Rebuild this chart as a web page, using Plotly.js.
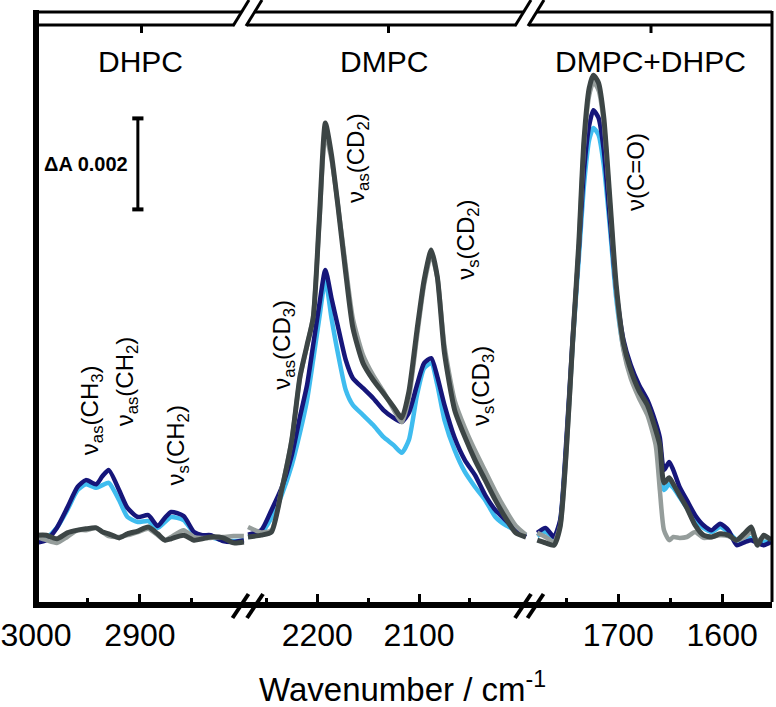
<!DOCTYPE html>
<html>
<head>
<meta charset="utf-8">
<script src="https://cdn.plot.ly/plotly-3.0.1.min.js"></script>
<style>
  html, body { margin: 0; padding: 0; background: #ffffff; }
  #chart { width: 776px; height: 707px; }
</style>
</head>
<body>
<div id="chart"></div>
<script>
// Difference spectra (ΔA in units of 10^-3) over three wavenumber windows.

// --- DHPC window: CH stretching region ---
const dhpcWn = [3000, 2990, 2980, 2970, 2960, 2952, 2942, 2936, 2930, 2920, 2912, 2902, 2892, 2883, 2876, 2870, 2858, 2848, 2840, 2832, 2820, 2810, 2800];
const dhpcBlue = [-0.11, -0.02, 0.20, 0.59, 1.03, 1.16, 1.08, 1.14, 1.19, 0.81, 0.44, 0.33, 0.35, 0.20, 0.33, 0.44, 0.37, 0.09, 0.02, 0.00, -0.07, -0.09, -0.07];
const dhpcNavy = [-0.13, -0.07, 0.20, 0.64, 1.10, 1.25, 1.16, 1.34, 1.47, 1.03, 0.64, 0.44, 0.48, 0.24, 0.42, 0.55, 0.46, 0.11, 0.04, 0.04, -0.09, -0.11, -0.07];
const dhpcGray = [0.00, -0.07, -0.13, 0.00, 0.15, 0.15, 0.20, 0.11, 0.02, 0.00, 0.04, 0.11, 0.18, 0.04, -0.07, 0.00, 0.15, 0.00, -0.02, -0.02, 0.00, 0.02, 0.02];
const dhpcDark = [0.04, 0.04, -0.04, 0.09, 0.15, 0.18, 0.20, 0.11, 0.07, -0.02, 0.07, 0.13, 0.22, 0.07, -0.07, -0.04, 0.04, -0.07, -0.04, 0.00, -0.02, -0.13, -0.11];

// --- DMPC window: CD stretching region ---
const dmpcWn = [2268, 2255, 2245, 2235, 2225, 2217, 2210, 2204, 2198, 2192, 2186, 2180, 2172, 2165, 2155, 2145, 2135, 2125, 2117, 2110, 2102, 2095, 2088, 2082, 2075, 2065, 2055, 2045, 2035, 2025, 2015, 2005, 1995];
const dmpcBlue = [0.00, 0.09, 0.42, 0.92, 1.58, 2.29, 3.01, 3.89, 4.81, 5.65, 4.81, 4.07, 3.23, 2.90, 2.68, 2.46, 2.20, 2.02, 1.85, 2.13, 3.12, 3.71, 3.82, 3.34, 2.57, 1.91, 1.43, 1.10, 0.81, 0.44, 0.26, 0.15, 0.04];
const dmpcNavy = [0.05, 0.15, 0.59, 1.08, 1.80, 2.64, 3.34, 4.22, 5.10, 5.87, 5.25, 4.66, 3.89, 3.49, 3.27, 3.05, 2.79, 2.62, 2.53, 2.73, 3.34, 3.82, 3.93, 3.52, 2.90, 2.18, 1.69, 1.36, 0.92, 0.59, 0.37, 0.15, 0.00];
const dmpcGray = [0.22, 0.10, 0.15, 1.05, 2.15, 3.50, 4.20, 4.85, 6.90, 8.85, 8.30, 7.35, 5.95, 4.80, 4.00, 3.55, 3.20, 2.80, 2.52, 3.05, 4.40, 5.55, 6.20, 5.70, 4.20, 3.00, 2.40, 1.90, 1.45, 1.00, 0.60, 0.25, 0.05];
const dmpcDark = [0.00, 0.04, 0.11, 1.03, 2.13, 3.52, 4.22, 4.81, 6.97, 9.10, 8.40, 7.34, 5.80, 4.60, 3.82, 3.45, 3.16, 2.86, 2.62, 3.19, 4.55, 5.65, 6.31, 5.71, 4.04, 2.79, 2.20, 1.69, 1.25, 0.81, 0.42, 0.09, 0.00];

// --- DMPC+DHPC window: carbonyl region ---
const mixWn = [1778, 1770, 1762, 1756, 1750, 1744, 1738, 1733, 1728, 1724, 1719, 1714, 1708, 1702, 1695, 1688, 1680, 1672, 1664, 1660, 1656, 1651, 1647, 1641, 1634, 1626, 1618, 1610, 1602, 1594, 1586, 1578, 1572, 1566, 1560, 1553];
const mixBlue = [0.02, 0.11, -0.02, 0.33, 2.02, 4.22, 6.13, 7.74, 8.73, 8.99, 8.84, 8.18, 6.79, 5.25, 4.15, 3.56, 3.16, 2.79, 2.35, 1.91, 1.03, 1.16, 1.08, 0.88, 0.64, 0.37, 0.20, 0.11, 0.22, 0.11, -0.07, -0.07, -0.02, -0.07, -0.11, -0.07];
const mixNavy = [0.09, 0.20, 0.00, 0.37, 2.13, 4.33, 6.31, 8.07, 9.05, 9.38, 9.21, 8.51, 6.97, 5.43, 4.33, 3.78, 3.34, 3.01, 2.51, 2.18, 1.47, 1.65, 1.47, 1.10, 0.81, 0.48, 0.26, 0.15, 0.29, 0.15, -0.18, -0.11, -0.07, -0.13, -0.18, -0.11];
const mixGray = [0.09, 0.00, -0.11, 0.24, 1.87, 4.20, 6.40, 8.62, 9.71, 10.00, 9.82, 9.12, 7.30, 5.43, 4.11, 3.49, 3.05, 2.68, 2.02, 1.03, 0.15, -0.07, 0.00, -0.02, 0.00, 0.11, -0.02, 0.00, 0.04, 0.02, -0.07, 0.00, 0.11, -0.09, 0.00, -0.04];
const mixDark = [-0.07, -0.13, -0.18, 0.22, 1.91, 4.26, 6.46, 8.73, 9.87, 10.15, 9.98, 9.23, 7.41, 5.54, 4.26, 3.67, 3.21, 2.90, 2.35, 2.02, 1.19, 1.30, 1.16, 0.92, 0.64, 0.26, 0.04, 0.00, 0.07, 0.04, -0.07, 0.09, 0.22, -0.18, 0.04, -0.07];

// Axis windows (cm^-1, high to low) and tick marks
const dhpcRange = [3000, 2797];
const dmpcRange = [2269, 1991];
const mixRange = [1785, 1552];
const dhpcTicks = [3000, 2900];
const dmpcTicks = [2200, 2100];
const mixTicks = [1700, 1600];
const dhpcMinor = [2950, 2850];
const dmpcMinor = [2250, 2150, 2050];
const mixMinor = [1750, 1650];

const panelNames = ['DHPC', 'DMPC', 'DMPC+DHPC'];

// Scale bar: ΔA 0.002 (drawn in 10^-3 units)
const SCALE_BAR_DA = 0.002;
const scaleBarX = 2902;
const scaleBarBase = 7.2;

const colors = { blue: '#3fbcef', navy: '#16167a', gray: '#959d9b', dark: '#3c4545' };
const FONT = 'Arial, "Liberation Sans", Helvetica, sans-serif';

// Plot area in pixels (for frame decorations)
const W = 776, H = 707;
const M = { l: 36, r: 4, t: 25, b: 105 };
const PW = W - M.l - M.r, PH = H - M.t - M.b;
const px = X => (X - M.l) / PW;
const py = Y => (H - M.b - Y) / PH;

function series(xs, ys, color, width, xaxis) {
  return {
    type: 'scatter', mode: 'lines', x: xs, y: ys, xaxis: xaxis, yaxis: 'y',
    line: { color: color, width: width, shape: 'spline', smoothing: 0.6 },
    hoverinfo: 'skip', showlegend: false
  };
}

const panels = [
  { wn: dhpcWn, blue: dhpcBlue, navy: dhpcNavy, gray: dhpcGray, dark: dhpcDark, ax: 'x' },
  { wn: dmpcWn, blue: dmpcBlue, navy: dmpcNavy, gray: dmpcGray, dark: dmpcDark, ax: 'x2' },
  { wn: mixWn, blue: mixBlue, navy: mixNavy, gray: mixGray, dark: mixDark, ax: 'x3' }
];

const traces = [];
panels.forEach(p => {
  traces.push(series(p.wn, p.blue, colors.blue, 4.5, p.ax));
  traces.push(series(p.wn, p.navy, colors.navy, 4.5, p.ax));
  traces.push(series(p.wn, p.gray, colors.gray, 4.5, p.ax));
  traces.push(series(p.wn, p.dark, colors.dark, 5, p.ax));
});

// Scale bar
traces.push({
  type: 'scatter', mode: 'lines+markers', xaxis: 'x', yaxis: 'y',
  x: [scaleBarX, scaleBarX],
  y: [scaleBarBase, scaleBarBase + SCALE_BAR_DA * 1000],
  line: { color: '#000', width: 3 },
  marker: { symbol: 'line-ew-open', size: 8, line: { color: '#000', width: 4 } },
  hoverinfo: 'skip', showlegend: false
});

function xAxis(domain, range, ticks, minor) {
  return {
    domain: domain, range: range, anchor: 'y',
    showline: true, linewidth: 6, linecolor: '#000',
    ticks: 'inside', ticklen: 8, tickwidth: 3, tickcolor: '#000',
    tickmode: 'array', tickvals: ticks, ticktext: ticks.map(String),
    tickfont: { family: FONT, size: 32, color: '#000' },
    minor: { tickmode: 'array', tickvals: minor, ticks: 'inside', ticklen: 4, tickwidth: 3, tickcolor: '#000' },
    showgrid: false, zeroline: false, fixedrange: true
  };
}

const d1 = px(247), d2 = px(530);

const lineStyle = w => ({ color: '#000', width: w });
const seg = (x0, y0, x1, y1, w) => ({
  type: 'line', xref: 'paper', yref: 'paper',
  x0: px(x0), y0: py(y0), x1: px(x1), y1: py(y1), line: lineStyle(w)
});
// Slanted break mark centred at c
const slash = (c, yb, yt, w) => seg(c - 8, yb, c + 8, yt, w);

const shapes = [
  // outer frame
  seg(36, 10, 36, 608, 6),
  seg(772, 11, 772, 602, 3),
  // double top border, broken at the axis breaks
  seg(36, 12, 241, 12, 3), seg(254, 12, 523, 12, 3), seg(536, 12, 772, 12, 3),
  seg(36, 25, 234, 25, 3), seg(247, 25, 516, 25, 3), seg(529, 25, 772, 25, 3),
  slash(241, 26, 0, 3), slash(254, 26, 0, 3),
  slash(523, 26, 0, 3), slash(536, 26, 0, 3),
  // bottom axis breaks
  slash(240.5, 618, 594, 4), slash(255, 618, 594, 4),
  slash(523, 618, 594, 4), slash(535.5, 618, 594, 4)
];
// one tick at the centre of each top border segment
['x', 'x2', 'x3'].forEach(ax => {
  shapes.push({
    type: 'line', xref: ax + ' domain', yref: 'paper',
    x0: 0.5, x1: 0.5, y0: 1, y1: py(33), line: lineStyle(3)
  });
});

const bandFont = { family: FONT, size: 24, color: '#000' };
const band = (ax, x, y, text) => ({
  xref: ax, yref: 'y', x: x, y: y, text: text, textangle: -90,
  showarrow: false, font: bandFont, xanchor: 'center', yanchor: 'middle'
});
const panelLabel = (ax, x, text) => ({
  xref: ax, yref: 'y', x: x, y: 10.44, text: text, showarrow: false,
  font: { family: FONT, size: 30, color: '#000' }, xanchor: 'center', yanchor: 'middle'
});

const annotations = [
  panelLabel('x', 2899, panelNames[0]),
  panelLabel('x2', 2134, panelNames[1]),
  panelLabel('x3', 1669, panelNames[2]),
  band('x', 2947, 2.79, 'ν<sub>as</sub>(CH<sub>3</sub>)'),
  band('x', 2913, 3.43, 'ν<sub>as</sub>(CH<sub>2</sub>)'),
  band('x', 2864, 2.02, 'ν<sub>s</sub>(CH<sub>2</sub>)'),
  band('x2', 2233, 4.22, 'ν<sub>as</sub>(CD<sub>3</sub>)'),
  band('x2', 2160, 8.33, 'ν<sub>as</sub>(CD<sub>2</sub>)'),
  band('x2', 2052, 6.53, 'ν<sub>s</sub>(CD<sub>2</sub>)'),
  band('x2', 2037, 3.32, 'ν<sub>s</sub>(CD<sub>3</sub>)'),
  band('x3', 1684, 8.02, 'ν(C=O)'),
  {
    xref: 'x', yref: 'y', x: 2909.5, y: scaleBarBase + SCALE_BAR_DA * 500,
    text: '<b>ΔA ' + SCALE_BAR_DA.toFixed(3) + '</b>', showarrow: false,
    font: { family: FONT, size: 20, color: '#000' }, xanchor: 'right', yanchor: 'middle'
  },
  {
    xref: 'paper', yref: 'paper', x: px(402), y: py(687),
    text: 'Wavenumber / cm<sup>-1</sup>', showarrow: false,
    font: { family: FONT, size: 33, color: '#000' }, xanchor: 'center', yanchor: 'middle'
  }
];

const layout = {
  width: W, height: H,
  margin: M,
  paper_bgcolor: '#ffffff', plot_bgcolor: '#ffffff',
  showlegend: false,
  font: { family: FONT, color: '#000' },
  xaxis: xAxis([0, d1], dhpcRange, dhpcTicks, dhpcMinor),
  xaxis2: xAxis([d1, d2], dmpcRange, dmpcTicks, dmpcMinor),
  xaxis3: xAxis([d2, 1], mixRange, mixTicks, mixMinor),
  yaxis: { range: [-1.4286, 11.2527], visible: false, fixedrange: true },
  shapes: shapes,
  annotations: annotations
};

Plotly.newPlot('chart', traces, layout, { staticPlot: true, displayModeBar: false });
</script>
</body>
</html>
